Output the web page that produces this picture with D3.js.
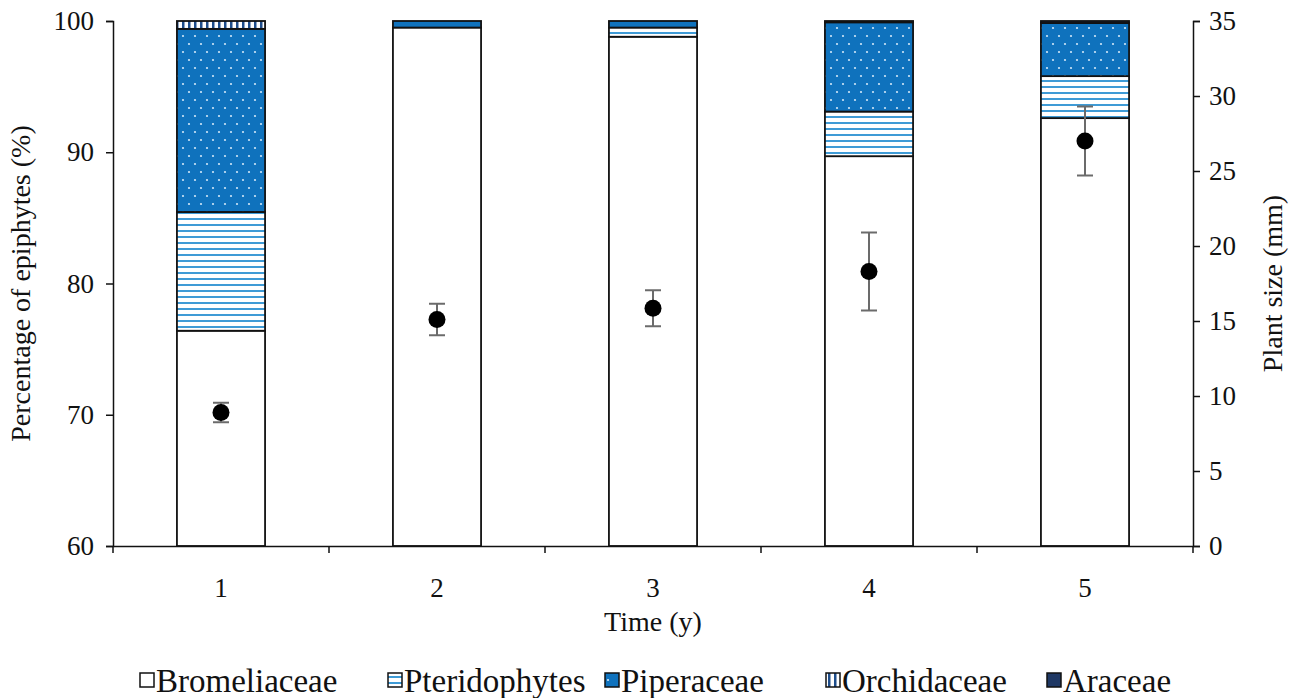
<!DOCTYPE html>
<html>
<head>
<meta charset="utf-8">
<script src="https://cdn.jsdelivr.net/npm/d3@7"></script>
<style>
  body { margin: 0; background: #fff; }
</style>
</head>
<body>
<div id="chart"></div>
<script>
// data
const years = ["1", "2", "3", "4", "5"];
const families = ["Bromeliaceae", "Pteridophytes", "Piperaceae", "Orchidaceae", "Araceae"];
const bromeliaceae  = [76.4, 99.5, 98.8, 89.7, 92.6];
const pteridophytes = [9.05, 0.0, 0.7, 3.4, 3.2];
const piperaceae    = [13.95, 0.5, 0.5, 6.8, 4.05];
const orchidaceae   = [0.6, 0.0, 0.0, 0.0, 0.0];
const araceae       = [0.0, 0.0, 0.0, 0.1, 0.15];
const plantSize     = [8.9, 15.1, 15.85, 18.3, 27.0];
const plantSizeErr  = [0.65, 1.05, 1.2, 2.6, 2.3];

const W = 1298, H = 698;
const margin = { left: 113, right: 105, top: 21, bottom: 152 };
const serif = "'Liberation Serif', 'Times New Roman', Times, 'DejaVu Serif', serif";

const svg = d3.select("#chart").append("svg")
  .attr("width", W).attr("height", H)
  .style("font-family", serif);

// fill patterns
const defs = svg.append("defs");
const blue = "#0f72bd";
const lightBlue = "#3f9bd6";

let p = defs.append("pattern").attr("id", "pter")
  .attr("patternUnits", "userSpaceOnUse").attr("width", 8).attr("height", 6);
p.append("rect").attr("width", 8).attr("height", 6).attr("fill", "#fff");
p.append("rect").attr("y", 2).attr("width", 8).attr("height", 2).attr("fill", lightBlue);

p = defs.append("pattern").attr("id", "piper")
  .attr("patternUnits", "userSpaceOnUse").attr("width", 12).attr("height", 16);
p.append("rect").attr("width", 12).attr("height", 16).attr("fill", blue);
p.append("circle").attr("cx", 3).attr("cy", 4).attr("r", 1.1).attr("fill", "#cfe6f7");
p.append("circle").attr("cx", 9).attr("cy", 12).attr("r", 1.1).attr("fill", "#cfe6f7");

p = defs.append("pattern").attr("id", "orchid")
  .attr("patternUnits", "userSpaceOnUse").attr("width", 6).attr("height", 8);
p.append("rect").attr("width", 6).attr("height", 8).attr("fill", "#fff");
p.append("rect").attr("x", 2).attr("width", 2.5).attr("height", 8).attr("fill", "#1f4e8c");

const fills = ["#ffffff", "url(#pter)", "url(#piper)", "url(#orchid)", "#1f3864"];

const x = d3.scaleBand()
  .domain(years)
  .range([margin.left, W - margin.right])
  .paddingInner(0.592)
  .paddingOuter(0.296);

const yL = d3.scaleLinear().domain([60, 100]).range([H - margin.bottom, margin.top]);
const yR = d3.scaleLinear().domain([0, 35]).range([H - margin.bottom, margin.top]);

// stacked bars, starting at the axis floor of 60
const table = years.map((yr, i) => ({
  year: yr,
  Bromeliaceae: bromeliaceae[i] - 60,
  Pteridophytes: pteridophytes[i],
  Piperaceae: piperaceae[i],
  Orchidaceae: orchidaceae[i],
  Araceae: araceae[i]
}));
const stacked = d3.stack().keys(families)(table);

svg.append("g").selectAll("g")
  .data(stacked)
  .join("g")
  .attr("fill", (d, i) => fills[i])
  .selectAll("rect")
  .data(d => d.filter(s => s[1] - s[0] > 0))
  .join("rect")
  .attr("x", d => x(d.data.year))
  .attr("width", x.bandwidth())
  .attr("y", d => yL(d[1] + 60))
  .attr("height", d => yL(d[0] + 60) - yL(d[1] + 60))
  .attr("stroke", "#111")
  .attr("stroke-width", 1.8);

// axes
const axL = svg.append("g")
  .attr("transform", `translate(${margin.left},0)`)
  .call(d3.axisLeft(yL).tickValues([60, 70, 80, 90, 100]).tickSizeOuter(0).tickSize(7).tickPadding(12));
const axR = svg.append("g")
  .attr("transform", `translate(${W - margin.right},0)`)
  .call(d3.axisRight(yR).tickValues(d3.range(0, 36, 5)).tickSizeOuter(0).tickSize(7).tickPadding(9));
const axB = svg.append("g")
  .attr("transform", `translate(0,${H - margin.bottom})`)
  .call(d3.axisBottom(x).tickSize(0).tickPadding(32));

// tick marks between categories on the time axis
svg.append("g").selectAll("line")
  .data(d3.range(years.length + 1))
  .join("line")
  .attr("x1", i => margin.left + i * x.step())
  .attr("x2", i => margin.left + i * x.step())
  .attr("y1", H - margin.bottom)
  .attr("y2", H - margin.bottom + 7)
  .attr("stroke", "#111").attr("stroke-width", 1.5);

[axL, axR, axB].forEach(a => {
  a.attr("font-family", null).attr("font-size", null);
  a.selectAll("path, line").attr("stroke", "#111").attr("stroke-width", 1.5);
  a.selectAll("text").style("font-size", "27px").attr("fill", "#111");
});

// plant size points with error bars
const pts = svg.append("g");
years.forEach((yr, i) => {
  const cx = x(yr) + x.bandwidth() / 2;
  const lo = yR(plantSize[i] - plantSizeErr[i]);
  const hi = yR(plantSize[i] + plantSizeErr[i]);
  pts.append("line").attr("x1", cx).attr("x2", cx).attr("y1", lo).attr("y2", hi)
    .attr("stroke", "#6b6b6b").attr("stroke-width", 2);
  [lo, hi].forEach(yy => pts.append("line")
    .attr("x1", cx - 8).attr("x2", cx + 8).attr("y1", yy).attr("y2", yy)
    .attr("stroke", "#6b6b6b").attr("stroke-width", 2));
  pts.append("circle").attr("cx", cx).attr("cy", yR(plantSize[i])).attr("r", 8.5).attr("fill", "#000");
});

// axis titles
svg.append("text")
  .attr("transform", `translate(30,${(margin.top + H - margin.bottom) / 2}) rotate(-90)`)
  .attr("text-anchor", "middle")
  .style("font-size", "28px").attr("fill", "#111")
  .text("Percentage of epiphytes (%)");
svg.append("text")
  .attr("transform", `translate(1282,${(margin.top + H - margin.bottom) / 2}) rotate(-90)`)
  .attr("text-anchor", "middle")
  .style("font-size", "28px").attr("fill", "#111")
  .text("Plant size (mm)");
svg.append("text")
  .attr("x", (margin.left + W - margin.right) / 2)
  .attr("y", 631)
  .attr("text-anchor", "middle")
  .style("font-size", "28px").attr("fill", "#111")
  .text("Time (y)");

// legend
const legendX = [140, 388, 605, 826, 1047];
const lg = svg.append("g").selectAll("g")
  .data(families)
  .join("g")
  .attr("transform", (d, i) => `translate(${legendX[i]},692)`);
lg.append("rect")
  .attr("x", 0).attr("y", -19).attr("width", 14).attr("height", 14)
  .attr("fill", (d, i) => fills[i])
  .attr("stroke", "#111").attr("stroke-width", 1.5);
lg.append("text")
  .attr("x", 16).attr("y", 0)
  .style("font-size", "33px").attr("fill", "#111")
  .text(d => d);
</script>
</body>
</html>
